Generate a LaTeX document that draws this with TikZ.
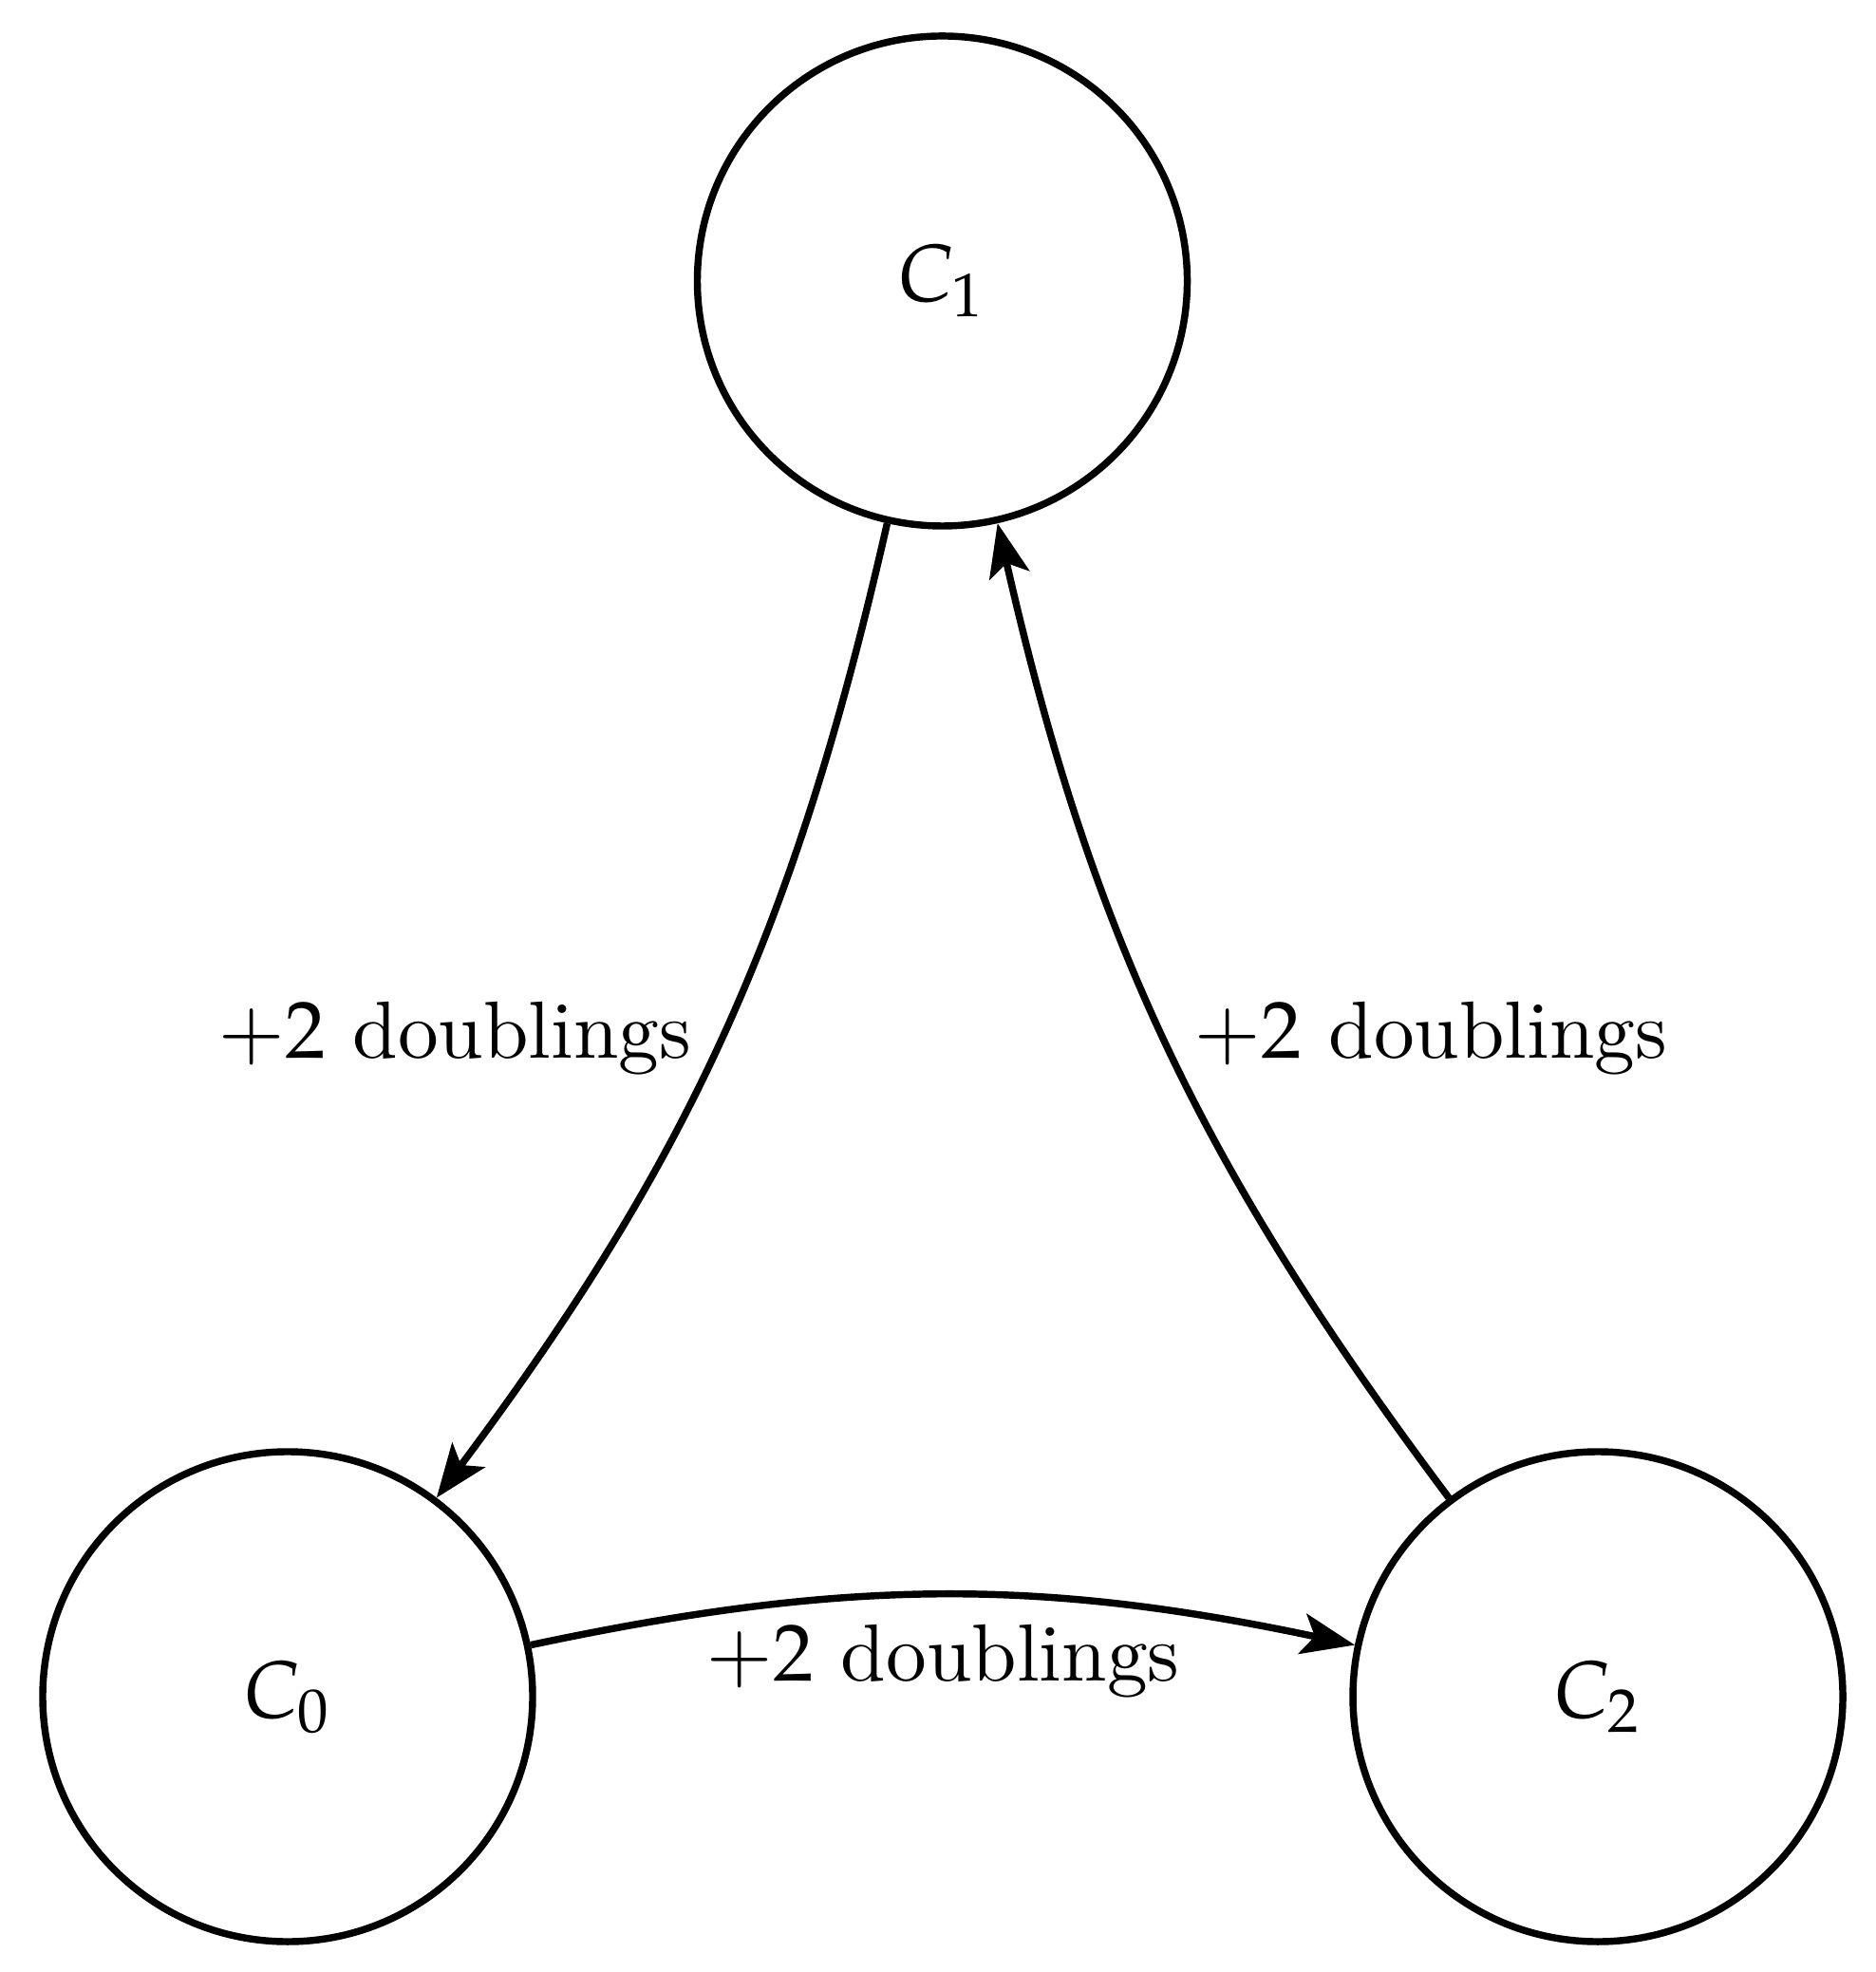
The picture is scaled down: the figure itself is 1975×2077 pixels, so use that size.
\documentclass[tikz,border=0pt]{standalone}
\usepackage{mathpazo}
\usetikzlibrary{arrows.meta}
\begin{document}
\begin{tikzpicture}[x=0.12092pt, y=-0.12092pt,
  every node/.style={font=\fontsize{10.33pt}{12.4pt}\selectfont},
  state/.style={circle, draw, line width=0.9pt, minimum size=62.4pt, inner sep=0pt},
  edge/.style={line width=0.9pt, -{Stealth[length=6.8pt, width=5.2pt, inset=1.6pt]}, auto=right}]
  \useasboundingbox (0,0) rectangle (1975,2077);
  \node[state] (C1) at (992.5,296) {$C_1$};
  \node[state] (C0) at (303,1787) {$C_0$};
  \node[state] (C2) at (1683,1787) {$C_2$};
  \draw[edge] (C1) to[bend left=12] node[anchor=east] {$+2$ doublings} (C0);
  \draw[edge] (C0) to[bend left=12] node {$+2$ doublings} (C2);
  \draw[edge] (C2) to[bend left=12] node[anchor=west] {$+2$ doublings} (C1);
\end{tikzpicture}
\end{document}
